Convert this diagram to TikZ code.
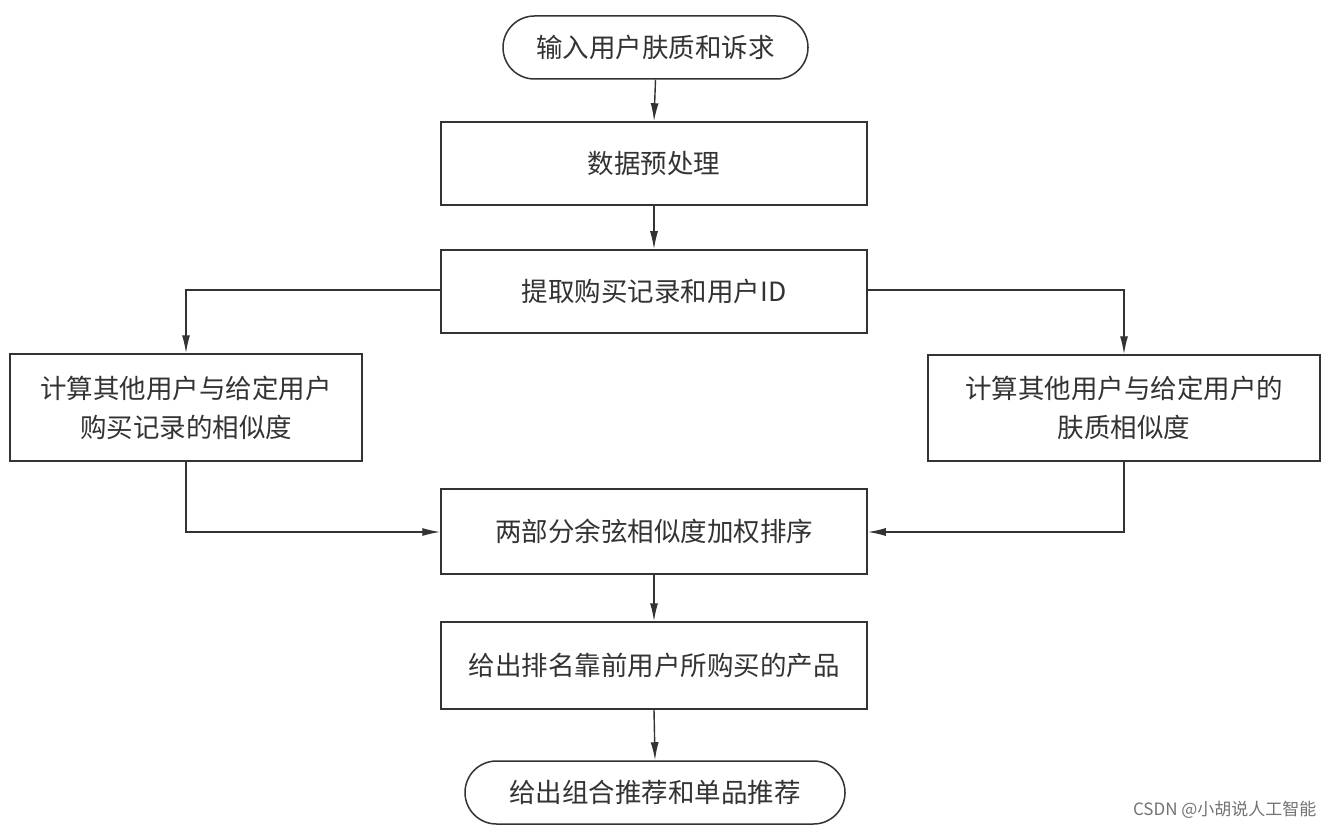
\documentclass[tikz,border=0pt]{standalone}
\usepackage{fontspec}
\newfontfamily\cjk{Noto Sans CJK SC}
\setmainfont{Liberation Serif}
\usetikzlibrary{arrows.meta,positioning}
\definecolor{ln}{HTML}{333333}
\definecolor{tx}{HTML}{333333}
\begin{document}
\begin{tikzpicture}[x=1pt,y=-1pt,
  box/.style={draw=ln,line width=1.5pt,fill=white,rectangle,inner sep=0pt,align=center,text=tx,font=\cjk\fontsize{26.5}{39}\selectfont},
  arr/.style={draw=ln,line width=1.4pt,-{Latex[length=18pt,width=8pt]}}]
\useasboundingbox (0,0) rectangle (1332,834);
\fill[white] (0,0) rectangle (1332,834);
\node[box,rounded corners=31.5pt,minimum width=305pt,minimum height=63pt] (start) at (655.5,47.5) {输入用户肤质和诉求};
\node[box,minimum width=426pt,minimum height=83pt] (pre) at (654,163.5) {数据预处理};
\node[box,minimum width=426pt,minimum height=83pt] (ext) at (654,291.5) {提取购买记录和用户ID};
\node[box,minimum width=352pt,minimum height=107pt] (left) at (186,407.5) {计算其他用户与给定用户\\购买记录的相似度};
\node[box,minimum width=392pt,minimum height=106pt] (right) at (1124,408) {计算其他用户与给定用户的\\肤质相似度};
\node[box,minimum width=426pt,minimum height=85pt] (rank) at (654,531.5) {两部分余弦相似度加权排序};
\node[box,minimum width=426pt,minimum height=87pt] (prod) at (654,665.5) {给出排名靠前用户所购买的产品};
\node[box,rounded corners=31.5pt,minimum width=380pt,minimum height=63pt] (end) at (655,792.5) {给出组合推荐和单品推荐};
\node[anchor=east,text=black!55,font=\cjk\fontsize{17}{20}\selectfont] (wm) at (1320,810) {CSDN @小胡说人工智能};
\draw[arr] (start.south) -- (pre.north);
\draw[arr] (pre.south) -- (ext.north);
\draw[arr] (ext.west |- 0,290) -| (left.north);
\draw[arr] (ext.east |- 0,290) -| (right.north);
\draw[arr] (left.south) |- (rank.west |- 0,532);
\draw[arr] (right.south) |- (rank.east |- 0,532);
\draw[arr] (rank.south) -- (prod.north);
\draw[arr] (prod.south) -- (end.north);
\end{tikzpicture}
\end{document}
